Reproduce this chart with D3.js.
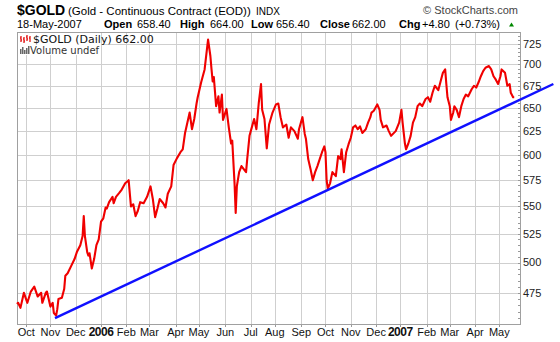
<!DOCTYPE html>
<html><head><meta charset="utf-8">
<script src="https://cdn.jsdelivr.net/npm/d3@7"></script>
<style>body{margin:0;background:#fff}svg{display:block}</style>
</head><body>
<script>
// ---- data ----
const startDate = "2005-09-21";          // first session shown
const endDate = "2007-05-25";            // right edge of the plot
// session offset (weekdays after startDate) and close price
const sessionDay = [0,1,3,6,9,12,15,18,21,22,25,26,29,31,32,34,35,36,39,41,42,44,47,50,52,54,55,57,58,59,61,62,63,65,67,69,71,73,75,77,78,80,83,84,86,89,91,94,97,99,101,103,105,107,110,113,116,118,120,122,124,127,129,131,134,136,139,142,144,146,148,150,152,154,156,157,160,161,163,165,166,168,169,170,171,173,175,176,178,179,182,184,186,187,189,190,191,193,195,197,199,200,202,204,206,208,210,212,213,215,217,219,222,225,227,229,231,234,236,238,241,244,245,248,250,251,253,255,257,259,261,263,265,267,268,269,270,272,274,277,279,281,282,284,286,288,290,292,294,296,298,300,303,305,307,308,310,313,315,316,318,321,323,325,329,332,334,335,337,338,340,342,344,346,348,350,352,355,357,359,361,363,366,368,370,372,373,374,376,377,379,380,382,384,386,388,390,392,395,397,399,401,403,405,407,410,412,414,416,418,420,421,424,426,428,429,431,432];
const closePrice = [466,467,463,475,467,476,480,472,475,467,475,476,464,467,459,457,462,470,471,478,489,491,497,503,509,513,515,523,541,523,509,506,508,495,503,515,520,536,539,549,548,554,559,553,559,563,566,572,575,550,552,541,546,554,553,559,569,557,540,548,557,553,549,562,569,590,597,603,606,623,634,645,627,638,655,662,679,684,694,718,730,710,694,680,685,652,663,645,665,637,649,629,612,615,572,544,569,583,589,586,583,596,620,629,638,627,655,677,648,638,607,632,645,654,655,640,629,632,618,629,625,617,627,640,622,617,596,586,575,583,589,596,603,609,603,575,567,572,583,579,599,596,606,583,603,611,618,629,631,627,630,623,627,634,640,645,647,654,648,637,629,631,625,620,625,634,648,634,612,606,612,620,634,640,652,655,652,660,662,657,667,675,670,680,690,694,677,662,652,637,645,652,648,640,652,660,665,663,671,675,673,679,686,692,696,698,694,686,682,677,686,694,690,675,677,667,662,662];
// blue trend line end points
const trendDay = [33, 466];
const trendPrice = [455, 677];
// axis ticks
const yTicks = [475,500,525,550,575,600,625,650,675,700,725];
const monthStarts = ["2005-10-03","2005-11-01","2005-12-01","2006-01-02","2006-02-01","2006-03-01","2006-04-03","2006-05-01","2006-06-01","2006-07-03","2006-08-01","2006-09-01","2006-10-02","2006-11-01","2006-12-01","2007-01-01","2007-02-01","2007-03-01","2007-04-02","2007-05-01"];
const monthLabels = ["Oct","Nov","Dec","2006","Feb","Mar","Apr","May","Jun","Jul","Aug","Sep","Oct","Nov","Dec","2007","Feb","Mar","Apr","May"];
const yearLabels = ["2006","2007"];
const quote = {date:"18-May-2007", open:"658.40", high:"664.00", low:"656.40", close:"662.00", chg:"+4.80", pct:"(+0.73%)"};

// ---- layout ----
const W = 560, H = 342;
const L = 17, R = 520, T = 32, B = 324;

const parse = d3.utcParse("%Y-%m-%d");
const origin = parse("2005-09-19"); // a Monday
function weekdayIndex(d){
  const days = d3.utcDay.count(origin, d);
  const w = Math.floor(days/7), r = days - 7*w;
  return w*5 + Math.min(r,5);
}
const i0 = weekdayIndex(parse(startDate));
const x = d3.scaleLinear().domain([i0, weekdayIndex(parse(endDate))]).range([L, R]);
const y = d3.scaleLog().domain([450.5, 739.5]).range([B, T]);

const svg = d3.select("body").append("svg").attr("width", W).attr("height", H)
  .style("font-family", "Arial, 'Liberation Sans', sans-serif");

// grid
const grid = svg.append("g").attr("shape-rendering","crispEdges");
grid.selectAll(".hg").data(yTicks).join("line")
  .attr("x1", L).attr("x2", R).attr("y1", d=>Math.round(y(d))+0.5).attr("y2", d=>Math.round(y(d))+0.5)
  .attr("stroke","#cfcfcf");
const monthX = monthStarts.map(s => x(weekdayIndex(parse(s))));
grid.selectAll(".vg").data(monthX).join("line")
  .attr("x1", d=>Math.round(d)+0.5).attr("x2", d=>Math.round(d)+0.5).attr("y1", T).attr("y2", B)
  .attr("stroke","#cfcfcf");

// legend backdrop
svg.append("rect").attr("x", L+1).attr("y", T+1).attr("width", 83).attr("height", 22).attr("fill","#fff");

// minor ticks on right axis
const minor = d3.range(455, 740, 5);
grid.selectAll(".mt").data(minor).join("line")
  .attr("x1", R-2).attr("x2", R).attr("y1", d=>Math.round(y(d))+0.5).attr("y2", d=>Math.round(y(d))+0.5)
  .attr("stroke","#999");
// bottom ticks
grid.selectAll(".bt").data(monthX).join("line")
  .attr("x1", d=>Math.round(d)+0.5).attr("x2", d=>Math.round(d)+0.5).attr("y1", B).attr("y2", B+3)
  .attr("stroke","#999");

// frame
svg.append("rect").attr("x", L+0.5).attr("y", T+0.5).attr("width", R-L).attr("height", B-T)
  .attr("fill","none").attr("stroke","#a0a0a0").attr("shape-rendering","crispEdges");

// price
const pts = sessionDay.map((d,i)=>[x(i0+d), y(closePrice[i])]);
svg.append("path").attr("d", d3.line()(pts))
  .attr("fill","none").attr("stroke","#f00000").attr("stroke-width",2.1).attr("stroke-linejoin","round");

// trend line
const tp = trendDay.map((d,i)=>[x(i0+d), y(trendPrice[i])]);
svg.append("path").attr("d", d3.line()(tp))
  .attr("fill","none").attr("stroke","#1010ff").attr("stroke-width",2.4);

// y labels
svg.selectAll(".yl").data(yTicks).join("text")
  .attr("x", 523).attr("y", d=>y(d)).attr("dy","0.35em")
  .attr("font-size", 11).attr("fill","#222").text(d=>d);

// x labels
svg.selectAll(".xl").data(monthLabels).join("text")
  .attr("x", (d,i)=>monthX[i]).attr("y", 336).attr("text-anchor","middle")
  .attr("font-size", d=>yearLabels.includes(d)?12:11)
  .attr("font-weight", d=>yearLabels.includes(d)?"bold":"normal")
  .attr("letter-spacing", d=>yearLabels.includes(d)?"-0.5":"0")
  .attr("fill","#111").text(d=>d);

// header
svg.append("text").attr("x",17).attr("y",15).attr("font-size",14).attr("font-weight","bold").text("$GOLD");
svg.append("text").attr("x",68).attr("y",15).attr("font-size",11.5).text("(Gold - Continuous Contract (EOD))");
svg.append("text").attr("x",256).attr("y",15).attr("font-size",10).text("INDX");
svg.append("text").attr("x",518).attr("y",14).attr("font-size",11).attr("fill","#444").attr("text-anchor","end").text("\u00A9 StockCharts.com");

const row = [
  {x:17, t:quote.date, b:false},
  {x:104, t:"Open", b:true}, {x:137, t:quote.open, b:false},
  {x:180, t:"High", b:true}, {x:210, t:quote.high, b:false},
  {x:251, t:"Low", b:true}, {x:276, t:quote.low, b:false},
  {x:320, t:"Close", b:true}, {x:352, t:quote.close, b:false},
  {x:399, t:"Chg", b:true}, {x:422, t:quote.chg, b:false}, {x:455, t:quote.pct, b:false}
];
svg.selectAll(".hr").data(row).join("text")
  .attr("x", d=>d.x).attr("y", 28)
  .attr("font-size", 11).attr("font-weight", d=>d.b?"bold":"normal").text(d=>d.t);
svg.append("path").attr("d","M509,26.5 L514,26.5 L511.5,22.5 Z").attr("fill","#008800");

// legend
const lg = svg.append("g").attr("stroke","#e00000").attr("stroke-width",1.2).attr("fill","none");
lg.append("path").attr("d","M21,36 V42 M20,38 H21 M21,40 H22 M24,37 V43 M23,39 H24 M24,41 H25 M27,35 V41 M26,37 H27 M27,39 H28 M30,36 V42 M29,38 H30");
svg.append("text").attr("x",33).attr("y",43).attr("font-family","'DejaVu Sans', Verdana, sans-serif")
  .attr("font-size",11).attr("fill","#111").text("$GOLD (Daily) " + quote.close);
const vg = svg.append("g").attr("fill","#666");
[[20,49,1.5,5],[22,47,1.5,7],[24,50,1.5,4],[26,48,1.5,6],[28,46,1.5,8]].forEach(b=>
  vg.append("rect").attr("x",b[0]).attr("y",b[1]).attr("width",b[2]).attr("height",b[3]));
svg.append("text").attr("x",30).attr("y",54).attr("font-family","'DejaVu Sans', Verdana, sans-serif")
  .attr("font-size",10).attr("fill","#333").text("Volume undef");
</script>
</body></html>
